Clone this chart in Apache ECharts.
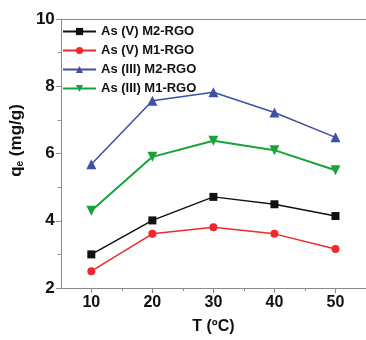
<!DOCTYPE html>
<html><head><meta charset="utf-8">
<script src="https://cdn.jsdelivr.net/npm/echarts@6/dist/echarts.min.js"></script>
<style>html,body{margin:0;padding:0;background:#fff}#c{width:366px;height:340px}</style>
</head><body><div id="c"></div>
<script>
const temps = [10, 20, 30, 40, 50];
const asV_M2 = [3.0, 4.01, 4.71, 4.49, 4.14];
const asV_M1 = [2.5, 3.61, 3.81, 3.61, 3.16];
const asIII_M2 = [5.68, 7.57, 7.82, 7.22, 6.48];
const asIII_M1 = [4.3, 5.9, 6.38, 6.1, 5.5];
const seriesNames = ['As (V) M2-RGO', 'As (V) M1-RGO', 'As (III) M2-RGO', 'As (III) M1-RGO'];
const xTicks = [10, 20, 30, 40, 50];
const xMinorTicks = [15, 25, 35, 45];

const pair = arr => temps.map((t, i) => [t, arr[i]]);
const axisGray = '#8a8a8a';
const font = 'Liberation Sans, Arial, sans-serif';
const chart = echarts.init(document.getElementById('c'));
const mk = (name, data, color, symbol, size, width) => ({
  name, type: 'line', data: pair(data), symbol, symbolSize: size,
  lineStyle: {color, width}, itemStyle: {color}, xAxisIndex: 0
});
chart.setOption({
  animation: false,
  grid: {left: 60, right: -3, top: 19, bottom: 49},
  legend: {
    orient: 'vertical', left: 57, top: 20, itemWidth: 33, itemHeight: 9, itemGap: 6,
    textStyle: {fontFamily: font, fontWeight: 'bold', fontSize: 13, color: '#111'},
    data: seriesNames
  },
  xAxis: [{
    type: 'value', min: 5, max: 55,
    axisLine: {lineStyle: {color: axisGray, width: 1}},
    axisTick: {customValues: xTicks, length: 5, lineStyle: {color: axisGray}},
    axisLabel: {customValues: xTicks, fontFamily: font, fontWeight: 'bold', fontSize: 16, color: '#111', margin: 7},
    splitLine: {show: false},
    name: 'T (ºC)', nameLocation: 'middle', nameGap: 31,
    nameTextStyle: {fontFamily: font, fontWeight: 'bold', fontSize: 16, color: '#111'}
  }, {
    type: 'value', min: 5, max: 55, position: 'bottom',
    axisLine: {show: false},
    axisTick: {customValues: xMinorTicks, length: 3, lineStyle: {color: axisGray}},
    axisLabel: {show: false}, splitLine: {show: false}
  }, {
    type: 'value', min: 5, max: 55, position: 'top',
    axisLine: {show: true, lineStyle: {color: axisGray, width: 1}},
    axisTick: {show: false}, axisLabel: {show: false}, splitLine: {show: false}
  }],
  yAxis: {
    type: 'value', min: 2, max: 10, interval: 2,
    axisLine: {show: true, lineStyle: {color: axisGray, width: 1}},
    axisTick: {show: true, length: 5, lineStyle: {color: axisGray}},
    minorTick: {show: true, splitNumber: 2, length: 3, lineStyle: {color: axisGray}},
    axisLabel: {fontFamily: font, fontWeight: 'bold', fontSize: 17, color: '#111', margin: 6},
    splitLine: {show: false},
    name: '{a|q}{b|e}{a| (mg/g)}', nameLocation: 'middle', nameGap: 24,
    nameTextStyle: {
      padding: [0, 0, 0, 26],
      rich: {
        a: {fontFamily: font, fontWeight: 'bold', fontSize: 17, color: '#111'},
        b: {fontFamily: font, fontWeight: 'bold', fontSize: 10, color: '#111', verticalAlign: 'bottom', padding: [7, 0, 0, 0]}
      }
    }
  },
  series: [
    mk(seriesNames[0], asV_M2, '#111111', 'rect', 8, 1.5),
    mk(seriesNames[1], asV_M1, '#f0282d', 'circle', 8, 1.5),
    mk(seriesNames[2], asIII_M2, '#3f4fa8', 'triangle', 10, 1.5),
    mk(seriesNames[3], asIII_M1, '#17a33a', 'path://M0,0L10,0L5,9z', 10, 2)
  ]
});
</script></body></html>
